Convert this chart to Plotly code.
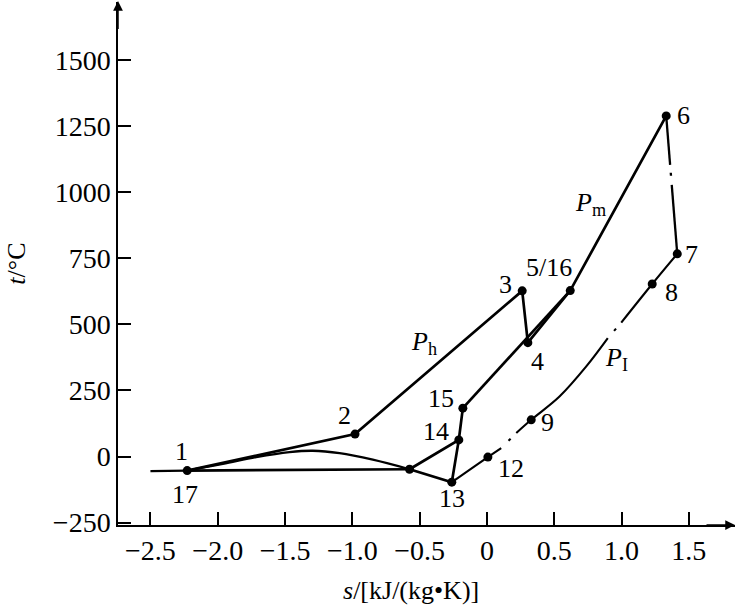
import plotly.graph_objects as go

# ---------------- data ----------------
# state points: entropy s [kJ/(kg K)], temperature t [°C]
pt_names = ["1", "2", "3", "4", "5/16", "6", "7", "8", "9", "12", "13", "14", "15", "J"]
pt_s = [-2.227, -0.980, 0.262, 0.304, 0.619, 1.332, 1.414, 1.228, 0.329, 0.007, -0.261, -0.209, -0.179, -0.575]
pt_t = [-53, 85, 627, 431, 628, 1289, 767, 653, 139, -2, -97, 63, 183, -48]

# inlet stub left of point 1
stub_s = [-2.50, -2.227]
stub_t = [-55, -53]

# Ph line 1 -> 2 -> 3
ph_s = [-2.227, -0.980, 0.262]
ph_t = [-53, 85, 627]

# 3 -> 4 -> 5/16 -> 6 (Pm)
pm_s = [0.262, 0.304, 0.619, 1.332]
pm_t = [627, 431, 628, 1289]

# 15 -> 5/16
rec_s = [-0.179, 0.619]
rec_t = [183, 628]

# 1 -> J horizontal
low_s = [-2.227, -0.575]
low_t = [-53, -48]

# curved line 1 -> J
arc_s = [-2.227, -1.962, -1.714, -1.467, -1.294, -1.095, -0.848, -0.575]
arc_t = [-53, -28, -2, 17, 22, 13, -12, -48]

# 15 -> 14 -> J -> 13 -> 14
net_s = [-0.179, -0.209, -0.575, -0.261, -0.209]
net_t = [183, 63, -48, -97, 63]

# PI curve 7 -> 8 -> ... -> 9 -> 12 -> 13 ; gaps (dash-dot) after these indices
pi_s = [1.414, 1.228, 0.998, 0.898, 0.738, 0.539, 0.329, 0.218, 0.106, 0.007, -0.261]
pi_t = [767, 653, 507, 448, 341, 227, 139, 89, 32, -2, -97]
pi_gaps = [2, 7]

# expansion 6 -> 7 ; gap after index 1
ex_s = [1.332, 1.361, 1.373, 1.414]
ex_t = [1289, 1104, 1028, 767]
ex_gaps = [1]

x_ticks = [-2.5, -2.0, -1.5, -1.0, -0.5, 0, 0.5, 1.0, 1.5]
x_ticktext = ["−2.5", "−2.0", "−1.5", "−1.0", "−0.5", "0", "0.5", "1.0", "1.5"]
y_ticks = [-250, 0, 250, 500, 750, 1000, 1250, 1500]
y_ticktext = ["−250", "0", "250", "500", "750", "1000", "1250", "1500"]

# ---------------- styles ----------------
FONT = "Liberation Serif"
LW = 2.7
label_shift = {
    "1": (-6, 19), "17": (-2, -24), "2": (-11, 19), "3": (-17, 6), "4": (10, -19),
    "5/16": (-21, 23), "6": (17, 0), "7": (14, -1), "8": (19, -9), "9": (16, -3),
    "12": (23, -11), "13": (0, -16), "14": (-23, 8), "15": (-22, 10),
}

fig = go.Figure()


def add_line(xs, ys, width=LW, shape="linear", dash="solid"):
    fig.add_trace(go.Scatter(x=xs, y=ys, mode="lines",
                             line=dict(color="black", width=width, shape=shape, dash=dash),
                             hoverinfo="skip", showlegend=False))


def add_broken(xs, ys, gaps, width):
    # solid runs separated by dash-dot gaps
    start = 0
    for g in gaps:
        run_x, run_y = xs[start:g + 1], ys[start:g + 1]
        add_line(run_x, run_y, width, "spline" if len(run_x) > 2 else "linear")
        add_line(xs[g:g + 2], ys[g:g + 2], width, "linear", "0px,8px,3px,200px")
        start = g + 1
    run_x, run_y = xs[start:], ys[start:]
    add_line(run_x, run_y, width, "spline" if len(run_x) > 2 else "linear")


add_line(stub_s, stub_t, 2.3)
add_line(ph_s, ph_t)
add_line(pm_s, pm_t)
add_line(rec_s, rec_t)
add_line(low_s, low_t)
add_line(arc_s, arc_t, 2.3, "spline")
add_line(net_s, net_t)
add_broken(pi_s, pi_t, pi_gaps, 2.1)
add_broken(ex_s, ex_t, ex_gaps, 2.3)

fig.add_trace(go.Scatter(x=pt_s, y=pt_t, mode="markers",
                         marker=dict(color="black", size=9),
                         hoverinfo="skip", showlegend=False))

annotations = []
pos = dict(zip(pt_names, zip(pt_s, pt_t)))
for name, (dx, dy) in label_shift.items():
    key = "1" if name == "17" else name
    x, y = pos[key]
    annotations.append(dict(x=x, y=y, xref="x", yref="y", text=name, showarrow=False,
                            xshift=dx, yshift=dy, font=dict(family=FONT, size=26, color="black")))

# pressure labels
for txt, x, y in [("<i>P</i><sub>h</sub>", -0.47, 428), ("<i>P</i><sub>m</sub>", 0.77, 955),
                  ("<i>P</i><sub>I</sub>", 0.96, 368)]:
    annotations.append(dict(x=x, y=y, xref="x", yref="y", text=txt, showarrow=False,
                            font=dict(family=FONT, size=26, color="black")))

# axis titles
annotations.append(dict(x=0.475, y=-0.126, xref="paper", yref="paper", xanchor="center",
                        yanchor="middle", text="<i>s</i>/[kJ/(kg•K)]", showarrow=False,
                        font=dict(family=FONT, size=26, color="black")))
annotations.append(dict(x=-0.165, y=0.5, xref="paper", yref="paper", textangle=-90,
                        xanchor="center", yanchor="middle",
                        text="<i>t</i>/°C", showarrow=False,
                        font=dict(family=FONT, size=26, color="black")))

# axis arrows
annotations.append(dict(x=0, y=1.003, xref="paper", yref="paper", ax=0, ay=30, text="",
                        showarrow=True, arrowhead=2, arrowsize=1.3, arrowwidth=1.5, arrowcolor="black"))
annotations.append(dict(x=1, y=0, xref="paper", yref="paper", ax=-30, ay=0, text="",
                        showarrow=True, arrowhead=2, arrowsize=1.3, arrowwidth=1.5, arrowcolor="black"))

fig.update_layout(
    width=737, height=608,
    margin=dict(l=118, r=2, t=2, b=83),
    paper_bgcolor="white", plot_bgcolor="white",
    annotations=annotations,
    xaxis=dict(range=[-2.741, 1.843], showgrid=False, zeroline=False, showline=True,
               linecolor="black", linewidth=1.5, ticks="inside", ticklen=13, tickwidth=1.5,
               tickcolor="black", tickvals=x_ticks, ticktext=x_ticktext,
               tickfont=dict(family=FONT, size=28, color="black")),
    yaxis=dict(range=[-259, 1720], showgrid=False, zeroline=False, showline=True,
               linecolor="black", linewidth=1.5, ticks="inside", ticklen=13, tickwidth=1.5,
               tickcolor="black", tickvals=y_ticks, ticktext=y_ticktext,
               tickfont=dict(family=FONT, size=28, color="black")),
)

fig.write_html("out.html")
